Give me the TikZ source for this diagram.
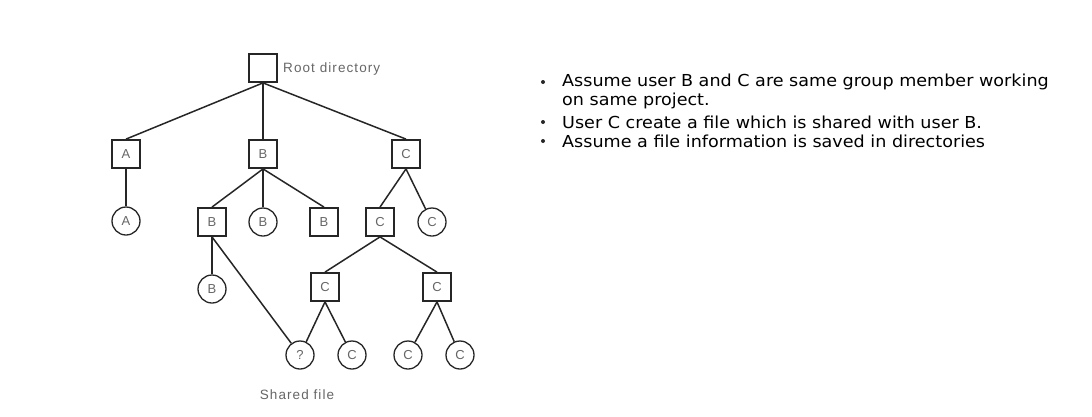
\documentclass[tikz,border=0pt]{standalone}
\usepackage{fontspec}
\setmainfont{Liberation Sans}
\newfontfamily\bulletfont[FakeStretch=1.065]{DejaVu Sans}
\newfontfamily\lblfont[LetterSpace=8]{Liberation Sans}
\begin{document}
\begin{tikzpicture}[x=1pt,y=-1pt,
  dirbox/.style={draw=black!85,line width=1.8pt,minimum size=28pt,inner sep=0pt,fill=white,font=\fontsize{13}{13}\selectfont,text=black!60},
  filecirc/.style={draw=black!85,circle,line width=1.3pt,minimum size=28pt,inner sep=0pt,fill=white,font=\fontsize{13}{13}\selectfont,text=black!60},
  edge/.style={draw=black!85,line width=1.5pt},
  lbl/.style={font=\lblfont\fontsize{13.5}{13.5}\selectfont,text=black!60,inner sep=0pt},
  btxt/.style={font=\bulletfont\fontsize{16.5}{20}\selectfont,anchor=west,inner sep=0pt,align=left}
]
\useasboundingbox (0,0) rectangle (1092,416);
% directories
\node[dirbox] (root) at (263,68) {};
\node[dirbox] (A) at (126,154) {A};
\node[dirbox] (B) at (263,154) {B};
\node[dirbox] (C) at (406,154) {C};
\node[filecirc] (a1) at (126,221) {A};
\node[dirbox] (B1) at (212,222) {B};
\node[filecirc] (b1) at (263,222) {B};
\node[dirbox] (B2) at (324,222) {B};
\node[dirbox] (C1) at (380,222) {C};
\node[filecirc] (c1) at (432,222) {C};
\node[filecirc] (b2) at (212,289) {B};
\node[dirbox] (C2) at (325,287) {C};
\node[dirbox] (C3) at (437,287) {C};
\node[filecirc] (q) at (300,355) {?};
\node[filecirc] (c2) at (352,355) {C};
\node[filecirc] (c3) at (408,355) {C};
\node[filecirc] (c4) at (460,355) {C};
% labels
\node[lbl,anchor=west] (rootlbl) at (283,69) {Root directory};
\node[lbl] (shlbl) at (297,395) {Shared file};
% edges
\draw[edge] (root.south) -- (A.north);
\draw[edge] (root.south) -- (B.north);
\draw[edge] (root.south) -- (C.north);
\draw[edge] (A.south) -- (a1);
\draw[edge] (B.south) -- (B1.north);
\draw[edge] (B.south) -- (b1);
\draw[edge] (B.south) -- (B2.north);
\draw[edge] (C.south) -- (C1.north);
\draw[edge] (C.south) -- (c1);
\draw[edge] (B1.south) -- (b2);
\draw[edge] (B1.south) -- (q);
\draw[edge] (C1.south) -- (C2.north);
\draw[edge] (C1.south) -- (C3.north);
\draw[edge] (C2.south) -- (q);
\draw[edge] (C2.south) -- (c2);
\draw[edge] (C3.south) -- (c3);
\draw[edge] (C3.south) -- (c4);
% bullets
\node[btxt] (t1) at (562,82) {Assume user B and C are same group member working};
\node[btxt] (t1b) at (562,101) {on same project.};
\node[btxt] (t2) at (562,122) {User C create a file which is shared with user B.};
\node[btxt] (t3) at (562,141) {Assume a file information is saved in directories};
\foreach \n in {t1,t2,t3}{
  \fill[black!85] ([xshift=-19pt]\n.west) circle (2pt);
}
\end{tikzpicture}
\end{document}
